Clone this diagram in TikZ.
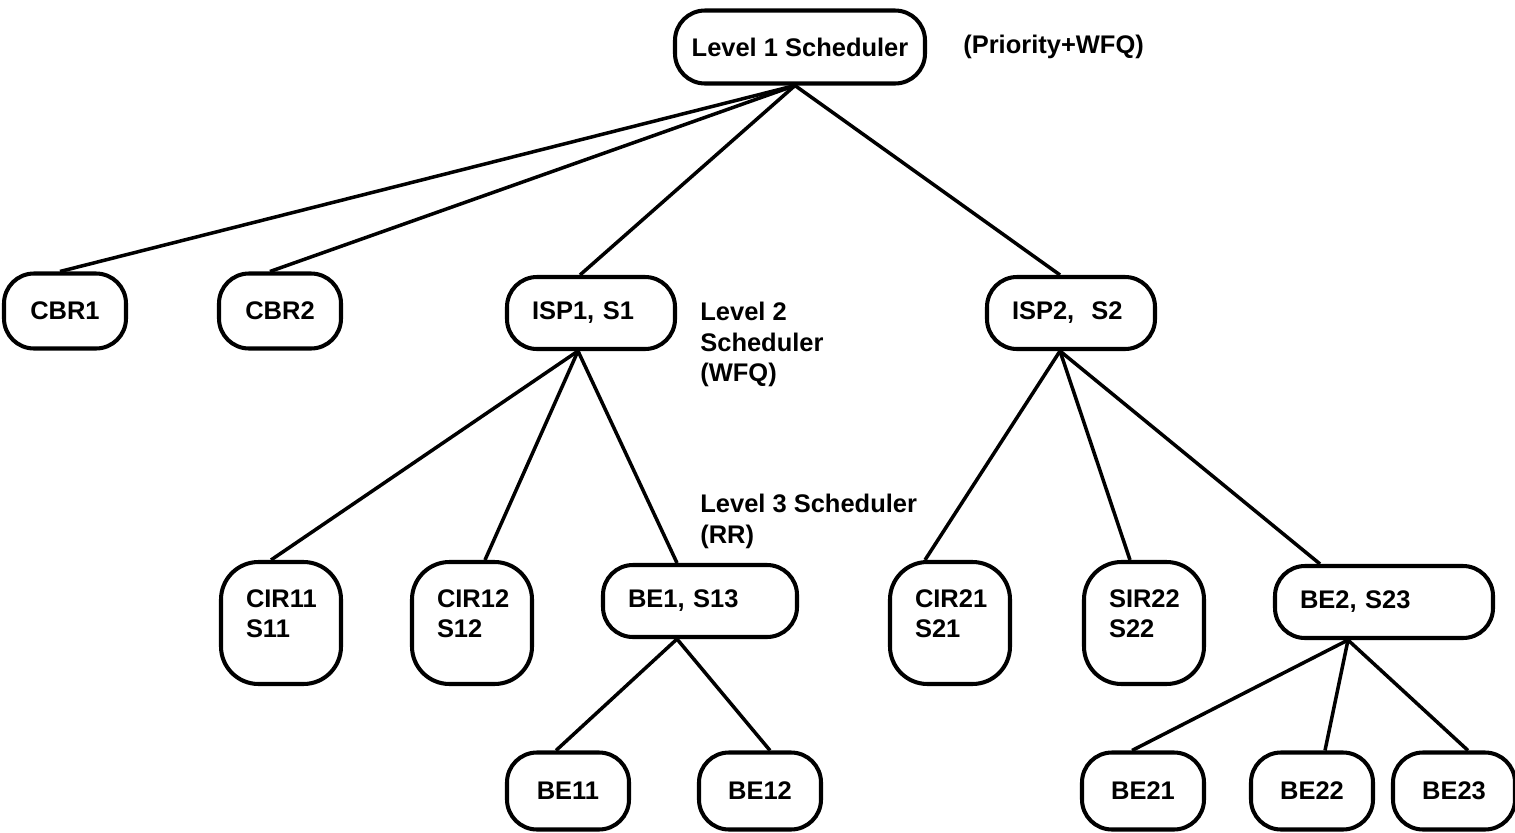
\documentclass[tikz,border=0pt]{standalone}
\usepackage{fontspec}
\setmainfont{Liberation Sans}
\usetikzlibrary{calc}

\tikzset{
  sched/.style={draw, line width=2.3pt, rounded corners=0.6cm, inner sep=0pt,
    font=\fontsize{14.5}{17.4}\selectfont\bfseries, align=left},
  leaf/.style={sched, minimum width=122*0.02cm, minimum height=75*0.02cm},
  wide/.style={sched, minimum width=#1*0.02cm, minimum height=72*0.02cm,
    text width=#1*0.02cm-50*0.02cm},
  tall/.style={sched, rounded corners=0.75cm, minimum width=120*0.02cm,
    minimum height=122*0.02cm, text width=70*0.02cm},
  note/.style={anchor=north west, inner sep=0pt, align=left,
    font=\fontsize{14.5}{17.4}\selectfont\bfseries},
  edge/.style={line width=2pt}
}

\begin{document}
\begin{tikzpicture}[x=0.02cm, y=-0.02cm]
    \useasboundingbox (0,0) rectangle (1515,832);

    % level 1
    \node[sched, minimum width=250*0.02cm, minimum height=73*0.02cm] (l1) at (800,47) {Level 1 Scheduler};
    \node[anchor=west, inner sep=0pt, font=\fontsize{14.5}{17.4}\selectfont\bfseries] (l1note) at (963,47) {(Priority+WFQ)};

    % level 2
    \node[leaf] (cbr1) at (65,311) {CBR1};
    \node[leaf] (cbr2) at (280,311) {CBR2};
    \node[wide=168] (isp1) at (591,313) {ISP1, S1};
    \node[wide=168] (isp2) at (1071,313) {ISP2,~ S2};
    \node[note] (l2note) at (700,302) {Level 2\\Scheduler\\(WFQ)};

    % level 3
    \node[tall] (cir11) at (281,623) {CIR11\\S11\\[-0.24cm]\mbox{}};
    \node[tall] (cir12) at (472,623) {CIR12\\S12\\[-0.24cm]\mbox{}};
    \node[wide=194] (be1) at (700,601) {BE1, S13};
    \node[note] (l3note) at (700,494) {Level 3 Scheduler\\(RR)};
    \node[tall] (cir21) at (950,623) {CIR21\\S21\\[-0.24cm]\mbox{}};
    \node[tall] (sir22) at (1144,623) {SIR22\\S22\\[-0.24cm]\mbox{}};
    \node[wide=218] (be2) at (1384,602) {BE2, S23};

    % level 4
    \node[leaf, minimum height=77*0.02cm] (be11) at (568,791) {BE11};
    \node[leaf, minimum height=77*0.02cm] (be12) at (760,791) {BE12};
    \node[leaf, minimum height=77*0.02cm] (be21) at (1143,791) {BE21};
    \node[leaf, minimum height=77*0.02cm] (be22) at (1312,791) {BE22};
    \node[leaf, minimum height=77*0.02cm] (be23) at (1454,791) {BE23};

    % meeting points under each scheduler
    \coordinate (l1b) at ($(l1.south)+(-5,0)$);
    \coordinate (isp1b) at ($(isp1.south)+(-13,0)$);
    \coordinate (isp2b) at ($(isp2.south)+(-11,0)$);
    \coordinate (be1b) at ($(be1.south)+(-23,0)$);
    \coordinate (be2b) at ($(be2.south)+(-36,0)$);

    \foreach \c/\dx in {cbr1/-5, cbr2/-10, isp1/-11, isp2/-11}
      \draw[edge] (l1b) -- ($(\c.north)+(\dx,0)$);
    \foreach \c/\dx in {cir11/-10, cir12/13, be1/-23}
      \draw[edge] (isp1b) -- ($(\c.north)+(\dx,0)$);
    \foreach \c/\dx in {cir21/-25, sir22/-14, be2/-64}
      \draw[edge] (isp2b) -- ($(\c.north)+(\dx,0)$);
    \foreach \c/\dx in {be11/-12, be12/10}
      \draw[edge] (be1b) -- ($(\c.north)+(\dx,0)$);
    \foreach \c/\dx in {be21/-11, be22/13, be23/14}
      \draw[edge] (be2b) -- ($(\c.north)+(\dx,0)$);
\end{tikzpicture}
\end{document}
